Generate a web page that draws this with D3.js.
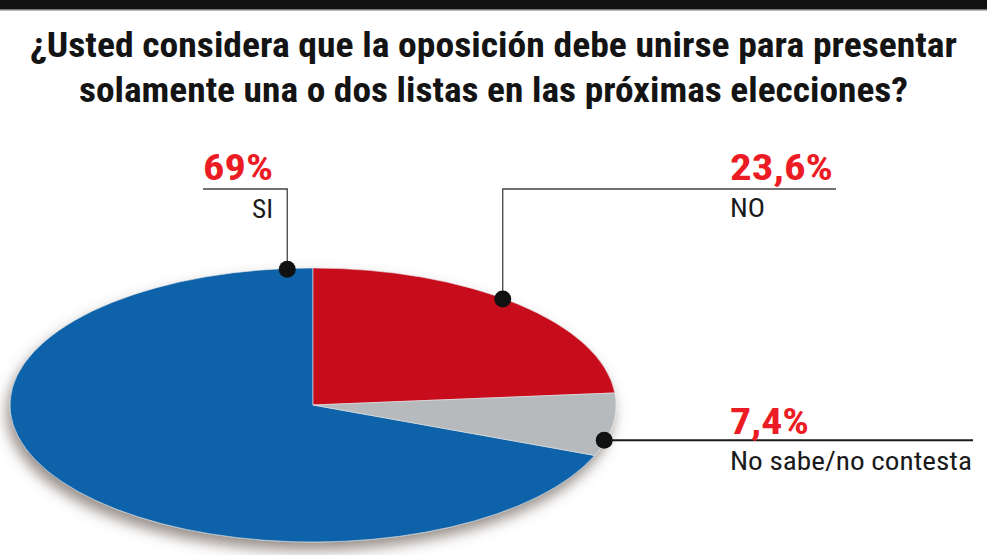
<!DOCTYPE html>
<html>
<head>
<meta charset="utf-8">
<script src="https://cdn.jsdelivr.net/npm/d3@7"></script>
<style>
  html, body { margin: 0; padding: 0; background: #fff; }
  svg { display: block; }
  text { font-family: "Liberation Sans Narrow", "Roboto Condensed", "DejaVu Sans Condensed", "Liberation Sans", sans-serif; }
</style>
</head>
<body>
<script>
// ---- data ----
const titleLines = [
  "¿Usted considera que la oposición debe unirse para presentar",
  "solamente una o dos listas en las próximas elecciones?"
];
const categories = ["SI", "NO", "No sabe/no contesta"];
const values = [69, 23.6, 7.4];
const valueLabels = ["69%", "23,6%", "7,4%"];
const colors = ["#0862a9", "#c70c1f", "#b6babd"];

// ---- layout ----
const W = 987, H = 555;
const cx = 313, cy = 405, rx = 303, ry = 137;

const svg = d3.select("body").append("svg").attr("width", W).attr("height", H);

const defs = svg.append("defs");
const f = defs.append("filter").attr("id", "shadow")
  .attr("x", "-10%").attr("y", "-20%").attr("width", "120%").attr("height", "150%");
f.append("feDropShadow").attr("dx", -3).attr("dy", 8).attr("stdDeviation", 7)
  .attr("flood-color", "#5e524a").attr("flood-opacity", 0.65);

// top bar
svg.append("rect").attr("x", 0).attr("y", 0).attr("width", W).attr("height", 9).attr("fill", "#111");
svg.append("rect").attr("x", 0).attr("y", 9).attr("width", W).attr("height", 1.5).attr("fill", "#777");

// title
const titleY = [57, 102];
const titleW = [927, 829];
svg.selectAll("text.title").data(titleLines).join("text")
  .attr("class", "title")
  .attr("x", 493.5).attr("y", (d, i) => titleY[i])
  .attr("text-anchor", "middle")
  .attr("font-size", 35).attr("font-weight", "bold").attr("fill", "#141414")
  .attr("textLength", (d, i) => titleW[i]).attr("lengthAdjust", "spacingAndGlyphs")
  .text(d => d);

// pie
const total = d3.sum(values);
const pie = d3.pie().sort(null).value(d => d)
  .startAngle(-values[0] / total * 2 * Math.PI)
  .endAngle((1 - values[0] / total) * 2 * Math.PI);
const arcs = pie(values);
const arc = d3.arc().innerRadius(0).outerRadius(rx);

const gOuter = svg.append("g").attr("filter", "url(#shadow)");
const gPie = gOuter.append("g").attr("transform", `translate(${cx},${cy}) scale(1,${ry / rx})`);
gPie.selectAll("path").data(arcs).join("path")
  .attr("d", arc)
  .attr("fill", (d, i) => colors[i])
  .attr("stroke", "#e8e8e8").attr("stroke-width", 0.6).attr("vector-effect", "non-scaling-stroke");

// anchor points on the rim (angles in degrees from 12 o'clock)
const anchorDeg = [-4.9, 39, 105];
const anchor = a => {
  const t = a * Math.PI / 180;
  return [cx + rx * 0.995 * Math.sin(t), cy - ry * 0.995 * Math.cos(t)];
};
const pts = anchorDeg.map(anchor);

// leader lines
const leaders = [
  [pts[0], [pts[0][0], 189], [203, 189]],
  [pts[1], [pts[1][0], 189], [836, 189]],
  [pts[2], [973, pts[2][1]]]
];
const line = d3.line();
svg.selectAll("path.leader").data(leaders).join("path")
  .attr("class", "leader")
  .attr("d", line)
  .attr("fill", "none")
  .attr("stroke", (d, i) => i === 2 ? "#1a1a1a" : "#444")
  .attr("stroke-width", (d, i) => i === 2 ? 2 : 1.3);

svg.selectAll("circle.dot").data(pts).join("circle")
  .attr("class", "dot")
  .attr("cx", d => d[0]).attr("cy", d => d[1]).attr("r", 8.5)
  .attr("fill", "#111");

// labels
const pctPos = [
  { x: 203, y: 180, w: 70 },
  { x: 730, y: 180, w: 103 },
  { x: 730, y: 434, w: 79 }
];
const catPos = [
  { x: 252, y: 218, w: 21 },
  { x: 730, y: 217, w: 35 },
  { x: 730, y: 470, w: 242 }
];
svg.selectAll("text.pct").data(valueLabels).join("text")
  .attr("class", "pct")
  .attr("x", (d, i) => pctPos[i].x).attr("y", (d, i) => pctPos[i].y)
  .attr("font-size", 37).attr("font-weight", "bold").attr("fill", "#ec1c24")
  .attr("textLength", (d, i) => pctPos[i].w).attr("lengthAdjust", "spacingAndGlyphs")
  .text(d => d);

svg.selectAll("text.cat").data(categories).join("text")
  .attr("class", "cat")
  .attr("x", (d, i) => catPos[i].x).attr("y", (d, i) => catPos[i].y)
  .attr("font-size", 26).attr("fill", "#1a1a1a")
  .attr("textLength", (d, i) => catPos[i].w).attr("lengthAdjust", "spacingAndGlyphs")
  .text(d => d);
</script>
</body>
</html>
